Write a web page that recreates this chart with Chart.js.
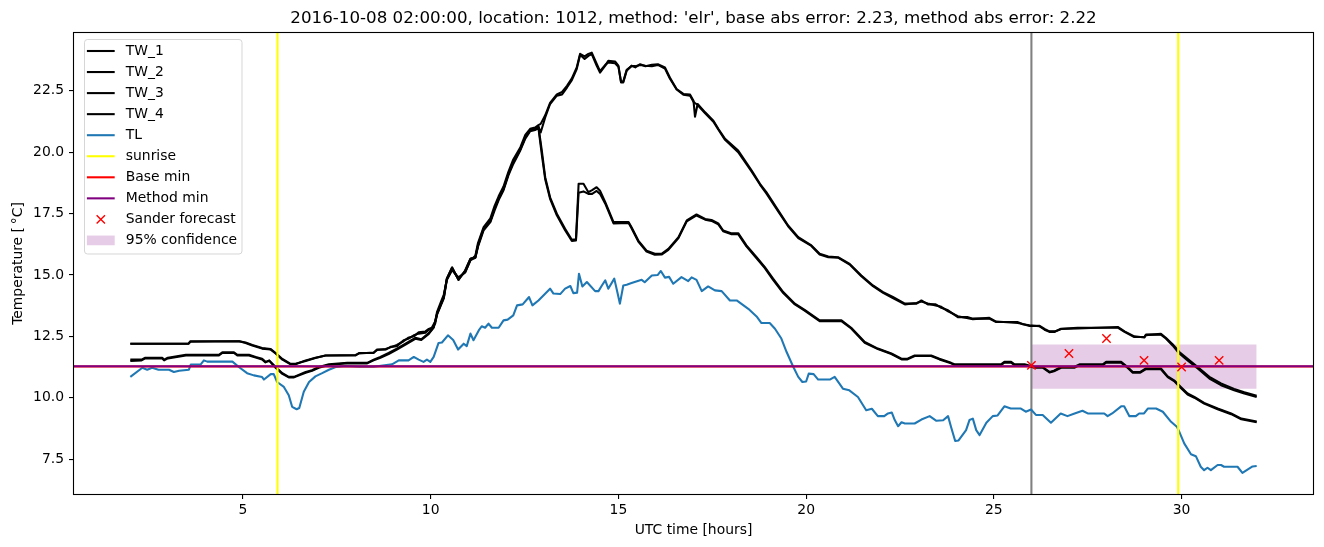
<!DOCTYPE html>
<html>
<head>
<meta charset="utf-8">
<script src="https://cdn.jsdelivr.net/npm/chart.js@4.4.0/dist/chart.umd.min.js"></script>
<style>
  html, body { margin: 0; padding: 0; background: #fff; }
  #wrap { width: 1324px; height: 547px; }
</style>
</head>
<body>
<div id="wrap"><canvas id="chart" width="1324" height="547"></canvas></div>
<script>
// Chart text
const TITLE = "2016-10-08 02:00:00, location: 1012, method: 'elr', base abs error: 2.23, method abs error: 2.22";
const X_LABEL = 'UTC time [hours]';
const Y_LABEL = 'Temperature [\u2009°C]';

// Axis limits (matplotlib auto margins)
const X_MIN = 0.5, X_MAX = 33.5;
const Y_MIN = 6.08, Y_MAX = 24.85;

// TW_1 / TW_2 (upper pair)
const timeUpper = [2.0, 3.55, 3.6, 4.9, 5.07, 5.25, 5.51, 5.74, 5.87, 6.05,
  6.27, 6.4, 6.67, 6.93, 7.2, 8.0, 8.09, 8.48, 8.57, 8.8,
  8.93, 9.1, 9.28, 9.4, 9.55, 9.68, 9.86, 9.95, 10.03, 10.12,
  10.17, 10.26, 10.35, 10.43, 10.57, 10.74, 10.92, 11.06, 11.19, 11.26,
  11.41, 11.59, 11.7, 11.81, 11.94, 12.07, 12.2, 12.39, 12.52, 12.65,
  12.78, 12.87, 12.93, 13.05, 13.18, 13.36, 13.5, 13.63, 13.76, 13.89,
  13.98, 14.1, 14.2, 14.29, 14.42, 14.51, 14.65, 14.73, 14.91, 15.0,
  15.07, 15.13, 15.22, 15.35, 15.45, 15.58, 15.72, 15.89, 16.05, 16.24,
  16.37, 16.55, 16.73, 16.91, 17.0, 17.04, 17.11, 17.31, 17.53, 17.66,
  17.84, 18.19, 18.55, 18.77, 18.94, 19.26, 19.52, 19.79, 20.14, 20.36,
  20.59, 20.85, 21.16, 21.47, 21.78, 22.05, 22.31, 22.63, 22.94, 23.07,
  23.24, 23.45, 23.6, 23.78, 24.04, 24.31, 24.44, 24.88, 25.06, 25.64,
  25.77, 25.95, 26.21, 26.35, 26.48, 26.62, 26.79, 27.23, 28.3, 28.48,
  28.74, 29.01, 29.05, 29.45, 29.58, 29.76, 29.94, 30.16, 30.43, 30.74,
  31.05, 31.4, 31.67, 32.0];
const TW_1 = [12.2, 12.2, 12.3, 12.3, 12.23, 12.13, 12.0, 11.96, 11.8, 11.55,
  11.36, 11.36, 11.52, 11.63, 11.72, 11.72, 11.82, 11.82, 11.96, 11.96,
  12.07, 12.1, 12.34, 12.4, 12.54, 12.61, 12.65, 12.77, 12.81, 13.02,
  13.42, 13.76, 14.1, 14.85, 15.3, 14.8, 15.18, 15.66, 15.72, 16.2,
  16.88, 17.2, 17.7, 18.1, 18.5, 19.11, 19.59, 20.13, 20.6, 20.9,
  20.94, 21.04, 20.8, 21.41, 21.96, 22.3, 22.35, 22.63, 22.93, 23.38,
  23.96, 23.79, 23.92, 23.99, 23.52, 23.24, 23.52, 23.72, 23.69, 23.52,
  22.84, 22.84, 23.31, 23.52, 23.45, 23.58, 23.5, 23.56, 23.58, 23.45,
  23.04, 22.57, 22.37, 22.34, 22.09, 21.44, 21.96, 21.62, 21.28, 20.95,
  20.54, 20.06, 19.25, 18.71, 18.37, 17.62, 17.01, 16.54, 16.2, 15.86,
  15.75, 15.72, 15.45, 14.98, 14.57, 14.3, 14.1, 13.83, 13.83, 13.96,
  13.8, 13.8, 13.66, 13.56, 13.28, 13.28, 13.22, 13.22, 13.08, 13.08,
  12.99, 12.95, 12.91, 12.77, 12.68, 12.68, 12.81, 12.85, 12.85, 12.68,
  12.47, 12.47, 12.57, 12.57, 12.41, 12.13, 11.8, 11.52, 11.19, 10.78,
  10.51, 10.3, 10.17, 10.03];
const TW_2 = [12.2, 12.2, 12.28, 12.3, 12.25, 12.15, 12.02, 11.98, 11.82, 11.58,
  11.38, 11.38, 11.5, 11.62, 11.72, 11.74, 11.8, 11.84, 11.94, 11.98,
  12.05, 12.15, 12.3, 12.44, 12.5, 12.66, 12.7, 12.8, 12.85, 13.1,
  13.5, 13.85, 14.2, 14.8, 15.2, 14.9, 15.1, 15.6, 15.78, 16.3,
  16.95, 17.3, 17.8, 18.2, 18.6, 19.2, 19.7, 20.2, 20.7, 20.95,
  21.0, 21.1, 21.15, 21.5, 22.0, 22.35, 22.45, 22.7, 23.0, 23.45,
  24.0, 23.9, 24.0, 24.05, 23.6, 23.3, 23.55, 23.65, 23.62, 23.48,
  22.86, 22.88, 23.35, 23.5, 23.5, 23.55, 23.52, 23.5, 23.55, 23.4,
  23.0, 22.55, 22.34, 22.3, 22.05, 22.0, 21.92, 21.58, 21.24, 20.92,
  20.5, 20.0, 19.2, 18.68, 18.32, 17.58, 16.98, 16.5, 16.18, 15.83,
  15.72, 15.7, 15.42, 14.95, 14.54, 14.27, 14.06, 13.8, 13.86, 13.92,
  13.84, 13.76, 13.7, 13.52, 13.32, 13.24, 13.2, 13.25, 13.1, 13.04,
  13.0, 12.92, 12.93, 12.8, 12.7, 12.7, 12.8, 12.82, 12.88, 12.7,
  12.5, 12.45, 12.55, 12.6, 12.44, 12.18, 11.86, 11.58, 11.25, 10.85,
  10.58, 10.36, 10.22, 10.08];

// TW_3 / TW_4 (lower pair)
const timeLower = [2.0, 2.3, 2.4, 2.85, 2.9, 3.0, 3.48, 4.36, 4.45, 4.76,
  4.85, 5.16, 5.34, 5.51, 5.6, 5.7, 5.87, 6.05, 6.22, 6.36,
  6.53, 6.67, 6.84, 7.02, 7.29, 7.78, 8.31, 8.48, 8.66, 8.88,
  9.1, 9.33, 9.59, 9.75, 9.95, 10.08, 10.17, 10.26, 10.35, 10.43,
  10.57, 10.74, 10.92, 11.06, 11.19, 11.26, 11.41, 11.59, 11.7, 11.81,
  11.94, 12.07, 12.2, 12.39, 12.52, 12.65, 12.78, 12.87, 12.96, 13.05,
  13.18, 13.36, 13.58, 13.76, 13.87, 13.94, 14.07, 14.2, 14.3, 14.42,
  14.51, 14.65, 14.87, 15.27, 15.35, 15.53, 15.75, 15.97, 16.15, 16.33,
  16.6, 16.82, 17.08, 17.31, 17.48, 17.66, 17.79, 18.0, 18.19, 18.41,
  18.68, 18.9, 19.12, 19.39, 19.7, 19.96, 20.36, 20.94, 21.2, 21.56,
  21.91, 22.27, 22.54, 22.7, 22.89, 23.33, 23.55, 23.86, 23.95, 25.19,
  25.28, 25.46, 25.55, 25.82, 26.08, 26.3, 26.48, 26.6, 26.79, 27.14,
  27.28, 27.9, 27.99, 28.39, 28.56, 28.7, 28.9, 29.05, 29.45, 29.63,
  29.8, 29.98, 30.16, 30.34, 30.6, 30.96, 31.32, 31.59, 32.0];
const TW_3 = [11.55, 11.55, 11.63, 11.63, 11.55, 11.63, 11.75, 11.75, 11.85, 11.85,
  11.75, 11.75, 11.66, 11.59, 11.46, 11.52, 11.25, 11.0, 10.85, 10.85,
  10.96, 11.05, 11.12, 11.25, 11.36, 11.42, 11.42, 11.55, 11.66, 11.82,
  12.0, 12.2, 12.44, 12.38, 12.63, 12.88, 13.42, 13.76, 14.1, 14.85,
  15.3, 14.8, 15.18, 15.66, 15.72, 16.2, 16.88, 17.2, 17.7, 18.1,
  18.5, 19.11, 19.59, 20.13, 20.6, 20.9, 20.94, 21.04, 20.06, 18.98,
  18.16, 17.49, 16.88, 16.43, 16.45, 18.71, 18.71, 18.37, 18.45, 18.57,
  18.43, 17.96, 17.15, 17.15, 16.94, 16.4, 15.99, 15.86, 15.86, 16.06,
  16.54, 17.22, 17.46, 17.28, 17.24, 17.1, 16.81, 16.7, 16.7, 16.2,
  15.72, 15.32, 14.85, 14.3, 13.83, 13.58, 13.15, 13.15, 12.85, 12.27,
  12.0, 11.8, 11.59, 11.59, 11.72, 11.72, 11.59, 11.42, 11.36, 11.36,
  11.46, 11.46, 11.36, 11.36, 11.25, 11.25, 11.05, 11.1, 11.25, 11.25,
  11.36, 11.36, 11.46, 11.46, 11.25, 11.05, 11.05, 11.19, 11.19, 10.87,
  10.71, 10.44, 10.17, 10.03, 9.79, 9.56, 9.36, 9.15, 9.03];
const TW_4 = [11.5, 11.52, 11.6, 11.6, 11.52, 11.6, 11.72, 11.72, 11.82, 11.82,
  11.72, 11.72, 11.64, 11.56, 11.44, 11.5, 11.22, 10.97, 10.83, 10.83,
  10.93, 11.02, 11.1, 11.22, 11.33, 11.4, 11.4, 11.52, 11.63, 11.78,
  11.96, 12.16, 12.4, 12.35, 12.6, 12.85, 13.38, 13.72, 14.05, 14.8,
  15.22, 14.85, 15.12, 15.6, 15.7, 16.15, 16.82, 17.15, 17.62, 18.05,
  18.45, 19.05, 19.52, 20.08, 20.55, 20.85, 20.9, 20.98, 19.9, 18.9,
  18.1, 17.43, 16.82, 16.38, 16.4, 18.35, 18.4, 18.3, 18.3, 18.42,
  18.3, 17.9, 17.1, 17.12, 16.9, 16.36, 15.95, 15.82, 15.83, 16.02,
  16.5, 17.18, 17.42, 17.25, 17.2, 17.06, 16.78, 16.66, 16.66, 16.16,
  15.68, 15.28, 14.8, 14.26, 13.8, 13.55, 13.12, 13.12, 12.82, 12.24,
  11.98, 11.78, 11.56, 11.56, 11.7, 11.7, 11.56, 11.4, 11.33, 11.33,
  11.43, 11.43, 11.33, 11.33, 11.22, 11.22, 11.03, 11.08, 11.22, 11.22,
  11.33, 11.33, 11.43, 11.43, 11.22, 11.02, 11.02, 11.16, 11.16, 10.84,
  10.68, 10.4, 10.13, 10.0, 9.76, 9.53, 9.33, 9.12, 9.0];

// TL
const timeTL = [2.0, 2.32, 2.45, 2.58, 2.75, 3.03, 3.16, 3.3, 3.56, 3.61,
  3.87, 3.96, 4.05, 4.72, 4.89, 5.11, 5.29, 5.51, 5.56, 5.74,
  5.82, 5.91, 6.09, 6.22, 6.31, 6.43, 6.5, 6.62, 6.76, 6.93,
  7.11, 7.29, 7.47, 7.73, 8.09, 8.48, 8.97, 9.15, 9.41, 9.55,
  9.68, 9.81, 9.9, 9.99, 10.08, 10.21, 10.3, 10.46, 10.6, 10.73,
  10.88, 10.96, 11.06, 11.14, 11.28, 11.36, 11.45, 11.54, 11.63, 11.81,
  11.94, 12.05, 12.2, 12.3, 12.45, 12.62, 12.71, 12.87, 13.18, 13.27,
  13.45, 13.58, 13.72, 13.8, 13.9, 13.95, 14.04, 14.16, 14.38, 14.47,
  14.56, 14.65, 14.73, 14.89, 14.98, 15.04, 15.13, 15.22, 15.35, 15.62,
  15.7, 15.89, 16.05, 16.13, 16.24, 16.35, 16.46, 16.68, 16.86, 16.95,
  17.08, 17.22, 17.39, 17.57, 17.75, 17.97, 18.15, 18.46, 18.68, 18.81,
  19.03, 19.17, 19.34, 19.48, 19.65, 19.79, 19.9, 20.0, 20.07, 20.2,
  20.32, 20.63, 20.76, 20.98, 21.15, 21.38, 21.6, 21.75, 21.91, 22.08,
  22.18, 22.28, 22.36, 22.45, 22.54, 22.63, 22.89, 23.07, 23.29, 23.47,
  23.65, 23.78, 23.86, 23.97, 24.06, 24.26, 24.35, 24.44, 24.53, 24.62,
  24.8, 24.97, 25.1, 25.28, 25.45, 25.72, 25.85, 25.99, 26.12, 26.3,
  26.52, 26.78, 26.96, 27.15, 27.36, 27.5, 27.94, 28.03, 28.15, 28.39,
  28.47, 28.61, 28.78, 28.87, 29.0, 29.1, 29.32, 29.5, 29.72, 29.88,
  29.94, 30.07, 30.25, 30.38, 30.51, 30.6, 30.69, 30.78, 30.96, 31.05,
  31.13, 31.49, 31.62, 31.89, 32.0];
const TL = [10.85, 11.22, 11.14, 11.22, 11.14, 11.14, 11.05, 11.1, 11.14, 11.35,
  11.35, 11.52, 11.47, 11.47, 11.25, 11.0, 10.91, 10.84, 10.74, 10.96,
  10.96, 10.64, 10.44, 10.1, 9.63, 9.53, 9.58, 10.24, 10.64, 10.87,
  11.0, 11.14, 11.25, 11.29, 11.26, 11.26, 11.36, 11.52, 11.52, 11.66,
  11.55, 11.46, 11.55, 11.46, 11.66, 12.23, 12.25, 12.54, 12.35, 11.96,
  12.2, 12.1, 12.61, 12.34, 12.74, 12.91, 12.85, 13.02, 12.85, 12.85,
  13.15, 13.18, 13.35, 13.76, 13.8, 14.1, 13.76, 13.96, 14.44, 14.24,
  14.22, 14.44, 14.55, 14.26, 14.28, 15.05, 14.53, 14.71, 14.34, 14.34,
  14.57, 14.78, 14.44, 14.85, 14.24, 13.83, 14.57, 14.6, 14.67, 14.8,
  14.7, 14.98, 15.0, 15.16, 14.89, 14.92, 14.64, 14.91, 14.75, 14.9,
  14.8, 14.34, 14.53, 14.37, 14.34, 13.96, 13.96, 13.62, 13.31, 13.04,
  13.04, 12.81, 12.41, 11.86, 11.28, 10.85, 10.64, 10.66, 10.98, 10.96,
  10.74, 10.74, 10.85, 10.37, 10.3, 10.03, 9.49, 9.55, 9.25, 9.25,
  9.36, 9.4, 9.09, 8.84, 9.0, 8.95, 8.95, 9.11, 9.25, 9.06,
  9.08, 9.25, 8.81, 8.24, 8.26, 8.68, 9.09, 9.15, 8.68, 8.48,
  8.98, 9.25, 9.28, 9.65, 9.56, 9.56, 9.43, 9.52, 9.3, 9.3,
  8.98, 9.36, 9.25, 9.36, 9.47, 9.36, 9.36, 9.25, 9.36, 9.65,
  9.65, 9.25, 9.25, 9.36, 9.36, 9.56, 9.56, 9.43, 9.02, 8.81,
  8.61, 8.14, 7.7, 7.62, 7.19, 7.05, 7.15, 7.05, 7.26, 7.26,
  7.19, 7.19, 6.94, 7.2, 7.22];

// Markers and reference lines
const sunriseHours = [5.92, 29.91];
const nowHour = 26;
const baseMin = 11.27;
const methodMin = 11.28;
const forecastHours = [26, 27, 28, 29, 30, 31];
const forecastValues = [11.32, 11.8, 12.41, 11.52, 11.25, 11.52];
const confHours = [26, 32];
const confLow = 10.37;
const confHigh = 12.17;

const FONT = '"DejaVu Sans", sans-serif';
const LW = 2.08; // 1.5pt at 100 dpi

function pts(xs, ys) {
  return xs.map((x, i) => ({ x: x, y: ys[i] }));
}

function vlines(xs) {
  const out = [];
  xs.forEach((x, i) => {
    if (i > 0) out.push({ x: x, y: null });
    out.push({ x: x, y: Y_MIN }, { x: x, y: Y_MAX });
  });
  return out;
}

function lineSet(label, data, color, order) {
  return {
    label: label, data: data, borderColor: color, backgroundColor: color,
    borderWidth: LW, pointRadius: 0, fill: false, tension: 0,
    order: order, legendKind: 'line'
  };
}

const datasets = [
  lineSet('TW_1', pts(timeUpper, TW_1), '#000000', 90),
  lineSet('TW_2', pts(timeUpper, TW_2), '#000000', 89),
  lineSet('TW_3', pts(timeLower, TW_3), '#000000', 88),
  lineSet('TW_4', pts(timeLower, TW_4), '#000000', 87),
  lineSet('TL', pts(timeTL, TL), '#1f77b4', 86),
  lineSet('sunrise', vlines(sunriseHours), '#ffff00', 85),
  Object.assign(lineSet('', vlines([nowHour]), '#808080', 91), { legendKind: null }),
  lineSet('Base min', [{ x: X_MIN, y: baseMin }, { x: X_MAX, y: baseMin }], '#ff0000', 84),
  lineSet('Method min', [{ x: X_MIN, y: methodMin }, { x: X_MAX, y: methodMin }], '#800080', 83),
  {
    label: 'Sander forecast', data: pts(forecastHours, forecastValues),
    showLine: false, pointStyle: 'crossRot', pointRadius: 5.9,
    borderColor: '#ff0000', backgroundColor: '#ff0000', pointBorderWidth: 1.4,
    order: 82, legendKind: 'marker'
  },
  {
    label: '95% confidence',
    data: pts(confHours, [confHigh, confHigh]),
    borderColor: 'rgba(0,0,0,0)', borderWidth: 0, pointRadius: 0,
    backgroundColor: 'rgba(128,0,128,0.2)',
    fill: { value: confLow },
    order: 100, legendKind: 'patch'
  }
];

// matplotlib-like legend, spines and labels
const decorations = {
  id: 'decorations',
  afterDatasetsDraw(chart) {
    const ctx = chart.ctx;
    const items = chart.data.datasets.filter(d => d.legendKind);
    const x0 = 84.5, y0 = 39.5, w = 157.5, h = 214.5, r = 3;
    ctx.save();
    ctx.beginPath();
    ctx.roundRect(x0, y0, w, h, r);
    ctx.fillStyle = 'rgba(255,255,255,0.8)';
    ctx.fill();
    ctx.strokeStyle = 'rgba(204,204,204,0.8)';
    ctx.lineWidth = 1;
    ctx.stroke();
    ctx.font = '13.9px ' + FONT;
    ctx.textBaseline = 'middle';
    ctx.textAlign = 'left';
    items.forEach((d, i) => {
      const cy = 51 + i * 21.05;
      if (d.legendKind === 'line') {
        ctx.strokeStyle = d.borderColor;
        ctx.lineWidth = LW;
        ctx.beginPath();
        ctx.moveTo(86.9, cy);
        ctx.lineTo(114.7, cy);
        ctx.stroke();
      } else if (d.legendKind === 'marker') {
        ctx.strokeStyle = d.borderColor;
        ctx.lineWidth = 1.4;
        const m = 4.17;
        ctx.beginPath();
        ctx.moveTo(100.8 - m, cy - m); ctx.lineTo(100.8 + m, cy + m);
        ctx.moveTo(100.8 - m, cy + m); ctx.lineTo(100.8 + m, cy - m);
        ctx.stroke();
      } else if (d.legendKind === 'patch') {
        ctx.fillStyle = d.backgroundColor;
        ctx.fillRect(86.9, cy - 4.9, 27.8, 9.7);
      }
      ctx.fillStyle = '#000';
      ctx.fillText(d.label, 125.8, cy);
    });
    ctx.restore();
  },
  afterDraw(chart) {
    const ctx = chart.ctx;
    const a = chart.chartArea;
    ctx.save();
    ctx.strokeStyle = '#000';
    ctx.lineWidth = 1.1;
    ctx.strokeRect(Math.round(a.left) - 0.5, Math.round(a.top) - 0.5,
      Math.round(a.right - a.left) + 1, Math.round(a.bottom - a.top) + 1);
    ctx.fillStyle = '#000';
    ctx.textAlign = 'center';
    ctx.textBaseline = 'alphabetic';
    ctx.font = '16.7px ' + FONT;
    ctx.fillText(TITLE, (a.left + a.right) / 2, 23);
    ctx.font = '13.9px ' + FONT;
    ctx.fillText(X_LABEL, (a.left + a.right) / 2, 534);
    ctx.translate(22, (a.top + a.bottom) / 2);
    ctx.rotate(-Math.PI / 2);
    ctx.fillText(Y_LABEL, 0, 0);
    ctx.restore();
  }
};

const tickFont = { family: FONT, size: 13.9 };

new Chart(document.getElementById('chart'), {
  type: 'line',
  data: { datasets: datasets },
  options: {
    responsive: false,
    animation: false,
    layout: { padding: { left: 0, right: 11, top: 33, bottom: 0 } },
    plugins: { legend: { display: false }, tooltip: { enabled: false }, title: { display: false } },
    elements: { line: { borderCapStyle: 'butt', borderJoinStyle: 'round' } },
    scales: {
      x: {
        type: 'linear', min: X_MIN, max: X_MAX,
        afterFit(scale) { scale.height = 53; },
        ticks: {
          stepSize: 5, includeBounds: false, color: '#000', font: tickFont,
          padding: 3, maxRotation: 0, autoSkip: false,
          callback: v => String(v)
        },
        grid: { drawOnChartArea: false, drawTicks: true, tickLength: 5, color: '#000', lineWidth: 1.1 },
        border: { display: false }
      },
      y: {
        type: 'linear', min: Y_MIN, max: Y_MAX,
        afterFit(scale) { scale.width = 74; },
        ticks: {
          stepSize: 2.5, includeBounds: false, color: '#000', font: tickFont,
          padding: 5, autoSkip: false,
          callback: v => v.toFixed(1)
        },
        grid: { drawOnChartArea: false, drawTicks: true, tickLength: 5, color: '#000', lineWidth: 1.1 },
        border: { display: false }
      }
    }
  },
  plugins: [decorations]
});
</script>
</body>
</html>
